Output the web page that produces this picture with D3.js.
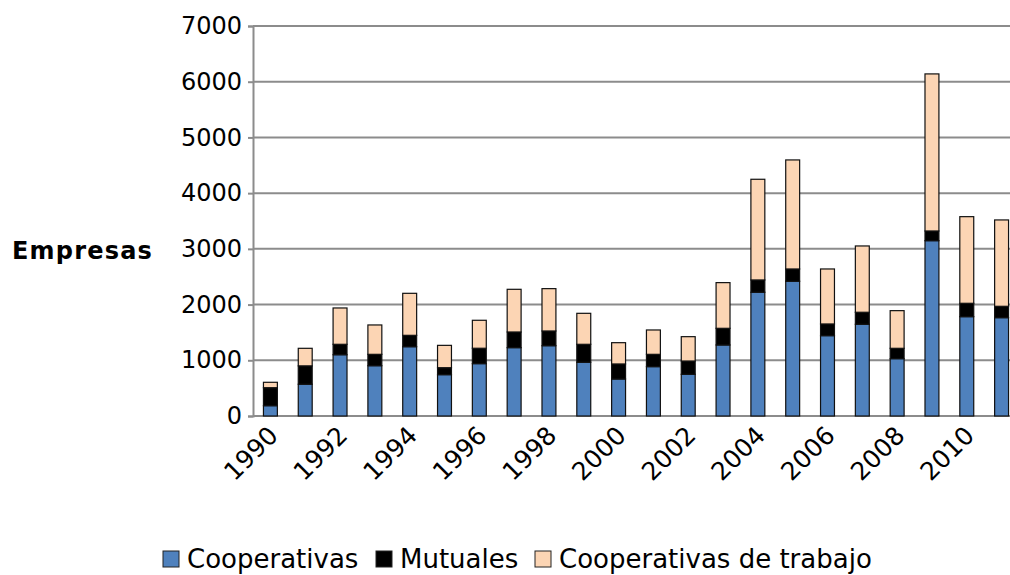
<!DOCTYPE html>
<html><head><meta charset="utf-8">
<script src="https://cdn.jsdelivr.net/npm/d3@7"></script>
<style>body{margin:0;background:#fff}svg{display:block;font-family:"DejaVu Sans",sans-serif}</style>
</head><body><svg id="c" width="1010" height="575"></svg>
<script>
const years = [1990,1991,1992,1993,1994,1995,1996,1997,1998,1999,2000,2001,2002,2003,2004,2005,2006,2007,2008,2009,2010,2011];
const cooperativas = [185,570,1100,903,1244,742,940,1227,1262,964,664,886,748,1275,2221,2418,1442,1646,1029,3147,1783,1765];
const mutuales = [323,330,187,204,204,125,276,281,264,323,270,221,239,299,221,221,210,216,186,174,240,204];
const trabajo = [97,315,652,527,754,401,502,766,760,556,382,437,437,820,1807,1957,987,1190,676,2819,1555,1550];
const seriesNames = ["Cooperativas","Mutuales","Cooperativas de trabajo"];
const colors = ["#4f81bd","#000000","#fcd5b4"];
const yTicks = [0,1000,2000,3000,4000,5000,6000,7000];

(function(){
const svg = d3.select("#c");
const pLeft = 253, pTop = 26, pBottom = 416, pRight = 1019;
const x = d3.scaleBand().domain(years).range([pLeft, pRight]).paddingInner(0.6).paddingOuter(0.3);
const y = d3.scaleLinear().domain([0,7000]).range([pBottom, pTop]);

svg.append("g").selectAll("line").data(yTicks).join("line")
  .attr("x1", pLeft).attr("x2", 1010)
  .attr("y1", d=>y(d)).attr("y2", d=>y(d))
  .attr("stroke", "#8c8c8c").attr("stroke-width", 2);

const rows = years.map((yr,i)=>({year:yr, c:cooperativas[i], m:mutuales[i], t:trabajo[i]}));
const stack = d3.stack().keys(["c","m","t"])(rows);
svg.append("g").selectAll("g").data(stack).join("g")
  .attr("fill", (d,i)=>colors[i])
  .selectAll("rect").data(d=>d).join("rect")
  .attr("x", d=>x(d.data.year)).attr("width", x.bandwidth())
  .attr("y", d=>y(d[1])).attr("height", d=>y(d[0])-y(d[1]))
  .attr("stroke", "#111").attr("stroke-width", 1.2);

const ya = svg.append("g").attr("transform", `translate(${pLeft},0)`)
  .call(d3.axisLeft(y).tickValues(yTicks).tickSize(5).tickPadding(6).tickFormat(d3.format("d")));
ya.select(".domain").attr("stroke","#8c8c8c").attr("stroke-width",2);
ya.selectAll(".tick line").attr("stroke","#8c8c8c").attr("stroke-width",2);
ya.selectAll("text").attr("font-size", 24).attr("fill","#000").attr("font-family","DejaVu Sans");

const xa = svg.append("g").attr("transform", `translate(0,${pBottom})`)
  .call(d3.axisBottom(x).tickValues(years.filter(d=>d%2===0)).tickSize(0).tickPadding(0));
xa.select(".domain").remove();
xa.selectAll("text").attr("font-size", 25).attr("fill","#000").attr("font-family","DejaVu Sans")
  .attr("text-anchor","end").attr("dy", null)
  .attr("transform","translate(9,21) rotate(-45)");

svg.append("text").attr("x", 12).attr("y", 259).attr("font-size", 24).attr("font-weight","bold")
  .attr("letter-spacing", 1.2).text("Empresas");

const legX = [163, 376, 535];
const lg = svg.append("g");
seriesNames.forEach((n,i)=>{
  lg.append("rect").attr("x", legX[i]).attr("y", 551).attr("width", 16).attr("height", 16)
    .attr("fill", colors[i]).attr("stroke","#222").attr("stroke-width",1);
  lg.append("text").attr("x", legX[i]+24).attr("y", 568).attr("font-size", 26).text(n);
});
})();
</script></body></html>
